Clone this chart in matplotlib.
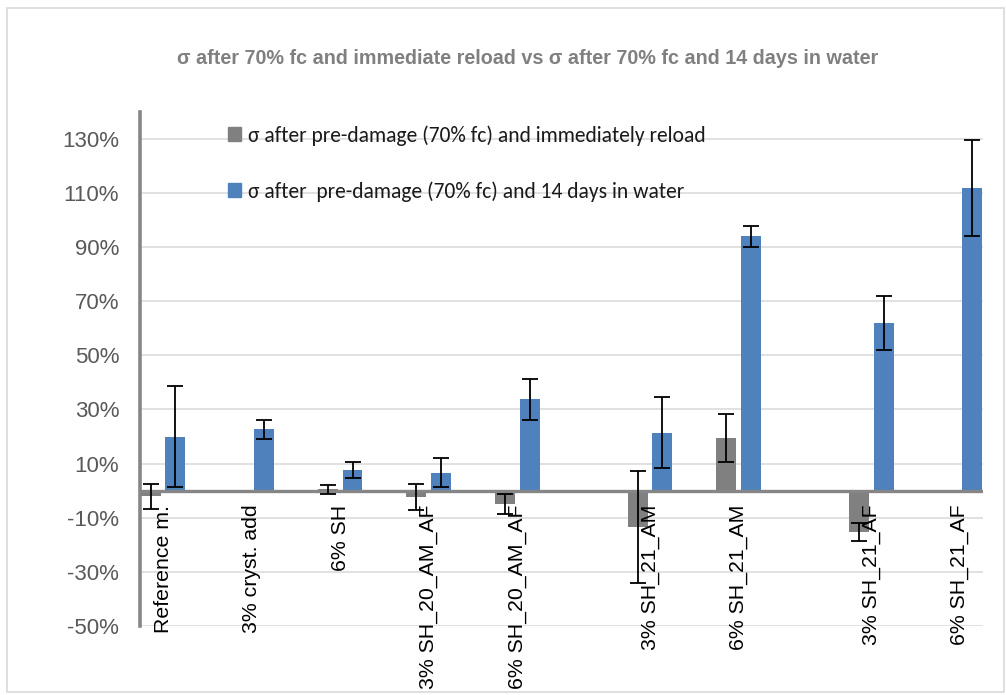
import matplotlib
matplotlib.use("Agg")
import matplotlib.pyplot as plt
from matplotlib import font_manager
from matplotlib.patches import Patch, Rectangle
from matplotlib.transforms import offset_copy
import numpy as np

categories = ["Reference m.", "3% cryst. add", "6% SH", "3% SH_20_AM_AF", "6% SH_20_AM_AF",
              "3% SH_21_AM", "6% SH_21_AM", "3% SH_21_AF", "6% SH_21_AF"]
group_id = [0, 0, 0, 0, 0, 1, 1, 2, 2]
immediate = [-2.0, np.nan, 0.5, -2.3, -5.0, -13.3, 19.5, -15.3, np.nan]
immediate_err = [4.6, np.nan, 1.7, 4.8, 3.7, 20.7, 9.0, 3.2, np.nan]
water = [19.9, 22.6, 7.7, 6.6, 33.7, 21.4, 94.0, 61.8, 111.9]
water_err = [18.7, 3.5, 3.0, 5.4, 7.5, 13.2, 3.9, 10.0, 17.7]
yticks = list(range(-50, 131, 20))
series_labels = ["σ after pre-damage (70% fc) and immediately reload",
                 "σ after  pre-damage (70% fc) and 14 days in water"]
title = "σ after 70% fc and immediate reload vs σ after 70% fc and 14 days in water"

def pick(names):
    for n in names:
        try:
            font_manager.findfont(font_manager.FontProperties(family=n), fallback_to_default=False)
            return n
        except Exception:
            pass
    return "DejaVu Sans"

sans = pick(["Liberation Sans", "Arial"])
narrow = pick(["Liberation Sans Narrow", "Arial Narrow", "DejaVu Sans Condensed", "Liberation Sans"])
calib = pick(["Carlito", "Calibri", "Lato", "Open Sans"])

GRAY = "#808080"
BLUE = "#4F81BD"

fig = plt.figure(figsize=(10.06, 6.95), dpi=100)
W, H = 1006, 695
ax = fig.add_axes([140 / W, (H - 626) / H, 843 / W, (626 - 111.7) / H])

x = np.arange(len(categories)) + 0.5 * np.array(group_id)
bw = 0.225
off = 0.14

ax.bar(x - off, immediate, bw, color=GRAY, zorder=2)
ax.bar(x + off, water, bw, color=BLUE, zorder=2)
ax.errorbar(x - off, immediate, yerr=immediate_err, fmt="none", ecolor="black",
            elinewidth=1.3, capsize=5.5, capthick=1.3, zorder=4)
ax.errorbar(x + off, water, yerr=water_err, fmt="none", ecolor="black",
            elinewidth=1.3, capsize=5.5, capthick=1.3, zorder=4)
ax.axhline(0, color="#868686", lw=2.4, zorder=3)

ax.set_xlim(-0.26, 9.26)
ax.set_ylim(-50, 140)
ax.set_yticks(yticks)
ax.set_yticklabels([f"{v}%" for v in yticks], fontfamily=sans, fontsize=16, color="#595959")
ax.tick_params(axis="y", length=0, pad=15)
ax.set_xticks([])
ax.grid(axis="y", color="#d9d9d9", lw=1.1, zorder=0)
ax.set_axisbelow(True)
for s in ["top", "right", "bottom"]:
    ax.spines[s].set_visible(False)
ax.spines["left"].set_color("#868686")
ax.spines["left"].set_linewidth(2.6)

tr = offset_copy(ax.transData, fig=fig, x=0, y=-14, units="dots")
for xi, lab in zip(x, categories):
    ax.text(xi, 0, lab, rotation=90, ha="center", va="top", transform=tr,
            fontfamily=sans, fontsize=15.3, color="black", clip_on=False)

handles = [Patch(color=GRAY), Patch(color=BLUE)]
leg = ax.legend(handles, series_labels, loc="center left",
                bbox_to_anchor=(228 / W, 1 - 163.5 / H), bbox_transform=fig.transFigure,
                frameon=False, borderpad=0, borderaxespad=0, handlelength=0.62,
                handleheight=0.62, handletextpad=0.33, labelspacing=1.65,
                prop={"family": calib, "size": 15.5})
for t in leg.get_texts():
    t.set_color("#1a1a1a")

fig.text(528 / W, 1 - 59 / H, title, ha="center", va="center", fontfamily=narrow,
         fontweight="bold", fontsize=14.2, color="#808080")

fig.patches.append(Rectangle((7 / W, 1 - 692 / H), 997 / W, 684 / H, transform=fig.transFigure,
                             fill=False, edgecolor="#d9d9d9", lw=1.2))

fig.savefig("out.png", dpi=100)
